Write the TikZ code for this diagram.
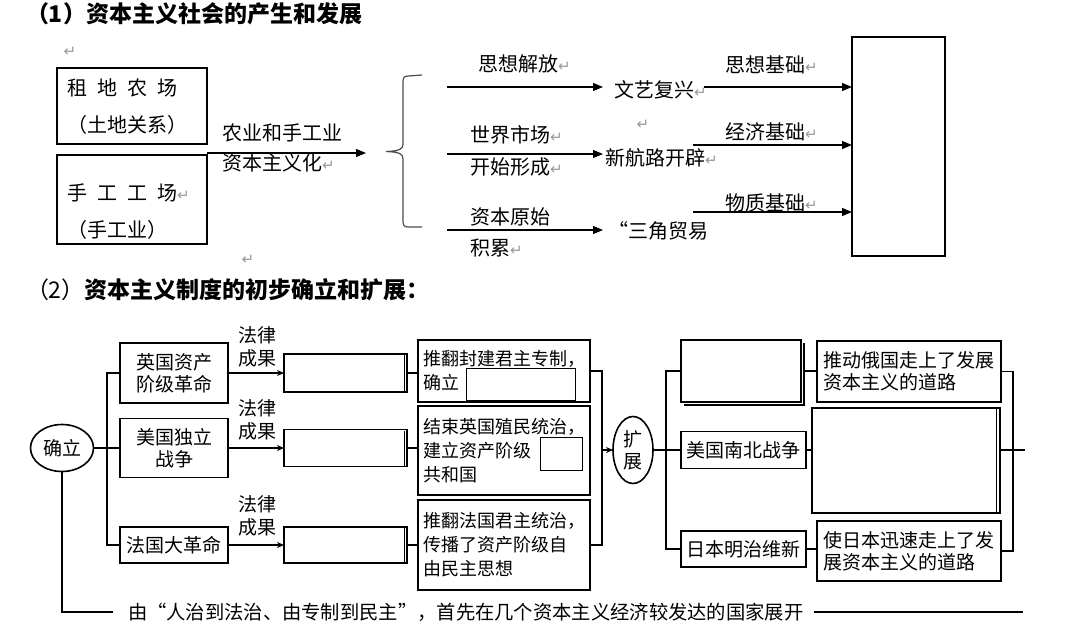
\documentclass[tikz,border=0pt]{standalone}
\usepackage{fontspec}
\setmainfont{Noto Sans CJK SC}
\newfontfamily\dvfont{DejaVu Sans}
\usetikzlibrary{arrows.meta,shapes.geometric}
\newcommand{\ret}{{\dvfont\color{black!40}\fontsize{15pt}{15pt}\selectfont ↵}}
\begin{document}
\begin{tikzpicture}[x=1pt,y=-1pt,
  every node/.style={inner sep=0pt, outer sep=0pt},
  tl/.style={font=\fontsize{20pt}{24pt}\selectfont, anchor=west},
  ttl/.style={font=\bfseries\fontsize{23pt}{26pt}\selectfont, anchor=west},
  topbox/.style={draw, line width=1.1pt},
  arr/.style={line width=1.1pt, -{Triangle[length=10pt,width=8pt]}},
  ln/.style={line width=1.6pt},
  bx/.style={draw, line width=1.6pt, font=\fontsize{19pt}{22pt}\selectfont, align=center},
  rb/.style={draw, line width=1.6pt, font=\fontsize{18pt}{24pt}\selectfont, align=left, inner xsep=5pt},
  rc/.style={draw, line width=1.6pt, font=\fontsize{19pt}{22pt}\selectfont, align=left, inner xsep=5pt},
  blank/.style={draw, line width=1.6pt},
  gap/.style={draw, line width=1pt, fill=white},
  sarr/.style={line width=1.6pt, -{Stealth[length=7pt,width=6pt]}},
  lawlab/.style={font=\fontsize{19pt}{23pt}\selectfont, align=center},
]
\useasboundingbox (0,0) rectangle (1080,625);

% ---------------- part 1 ----------------
\node[ttl] (title1) at (26,14) {（1）资本主义社会的产生和发展};
\node (r0) at (70,52) {\ret};

\node[topbox, minimum width=150pt, minimum height=76pt] (farm) at (132,106) {};
\node[topbox, minimum width=150pt, minimum height=89pt] (work) at (132,199.5) {};
\node[tl] (farmA) at (67,88) {租\hspace{10pt}地\hspace{10pt}农\hspace{10pt}场};
\node[tl] (farmB) at (67,125) {（土地关系）};
\node[tl] (workA) at (67,193) {手\hspace{10pt}工\hspace{10pt}工\hspace{10pt}场\ret};
\node[tl] (workB) at (67,230) {（手工业）};

\coordinate (m0) at (207,153);
\coordinate (m1) at (366,153);
\draw[arr] (m0) -- (m1);
\node[tl] (capA) at (222,133) {农业和手工业};
\node[tl] (capB) at (222,163) {资本主义化\ret};
\node (r1) at (248,260) {\ret};

% brace
\draw[black!70, line width=1.2pt] (422,75) -- (408,76)
  .. controls (404,76) and (403,78) .. (403,82) -- (403,144)
  .. controls (403,149) and (400,151) .. (386,151.5)
  .. controls (400,152) and (403,154) .. (403,159) -- (403,221)
  .. controls (403,225) and (404,227) .. (408,227) -- (422,227);

\coordinate (s1) at (447,87);
\coordinate (s2) at (447,154);
\coordinate (s3) at (447,230);
\node[tl] (ren) at (614,90) {文艺复兴\ret};
\node[tl] (nav) at (605,158) {新航路开辟\ret};
\node[tl] (tri) at (608,231) {“三角贸易};
\draw[arr, shorten >=11pt] (s1) -- (s1 -| ren.west);
\draw[arr, shorten >=2pt] (s2) -- (s2 -| nav.west);
\draw[arr, shorten >=5pt] (s3) -- (s3 -| tri.west);

\node[tl] (lb1) at (478,64) {思想解放\ret};
\node[tl] (lb2a) at (470,135) {世界市场\ret};
\node[tl] (lb2b) at (470,167) {开始形成\ret};
\node[tl] (lb3a) at (470,217) {资本原始};
\node[tl] (lb3b) at (470,248) {积累\ret};
\node (r2) at (643,125) {\ret};

\node[topbox, minimum width=93pt, minimum height=219pt] (soc) at (898.5,146.5) {};
\coordinate (q1) at (704,87);
\coordinate (q2) at (693,145);
\coordinate (q3) at (693,212);
\draw[arr] (q1) -- (q1 -| soc.west);
\draw[arr] (q2) -- (q2 -| soc.west);
\draw[arr] (q3) -- (q3 -| soc.west);
\node[tl] (f1) at (725,65) {思想基础\ret};
\node[tl] (f2) at (725,132) {经济基础\ret};
\node[tl] (f3) at (725,203) {物质基础\ret};

% ---------------- part 2 ----------------
\node[ttl] (title2) at (26,290) {{\mdseries （2）}资本主义制度的初步确立和扩展：};

\node[draw, ellipse, ln, minimum width=63pt, minimum height=47pt, font=\fontsize{19pt}{22pt}\selectfont] (est) at (62,448) {确立};
\coordinate (busL) at (107,448);
\node[bx, minimum width=108pt, minimum height=60pt] (eng) at (174,373) {英国资产\\阶级革命};
\node[bx, minimum width=108pt, minimum height=59pt] (usa) at (174,448) {美国独立\\战争};
\node[bx, minimum width=108pt, minimum height=36pt] (fra) at (174,545) {法国大革命};
\draw[ln] (est.east) -- (busL);
\draw[ln] (eng.west) -| (busL) |- (fra.west);
\draw[ln] (busL) -- (usa.west);

\node[lawlab] (law1) at (257,346.5) {法律\\成果};
\node[lawlab] (law2) at (257,420) {法律\\成果};
\node[lawlab] (law3) at (257,516) {法律\\成果};

\node[blank, minimum width=123pt, minimum height=38pt] (res1) at (345.5,373) {};
\node[blank, minimum width=123pt, minimum height=37pt] (res2) at (345.5,448) {};
\node[blank, minimum width=123pt, minimum height=36pt] (res3) at (345.5,545) {};
\foreach \n in {res1,res2,res3}
  \draw[line width=1pt] ([xshift=-3pt,yshift=-1pt]\n.north east) -- ([xshift=-3pt]\n.south east);
\draw[sarr] (eng.east) -- (res1.west);
\draw[sarr] (usa.east) -- (res2.west);
\draw[sarr] (fra.east) -- (res3.west);

\node[rb, minimum width=172pt, minimum height=62pt] (cr1) at (504,371) {推翻封建君主专制，\\确立};
\node[gap, minimum width=109pt, minimum height=32pt] (cr1b) at (520.5,384) {};
\node[rb, minimum width=172pt, minimum height=89pt] (cr2) at (504,450.5) {结束英国殖民统治，\\建立资产阶级\\共和国};
\node[gap, minimum width=42pt, minimum height=33pt] (cr2b) at (561,453.5) {};
\node[rb, minimum width=172pt, minimum height=90pt] (cr3) at (504,545) {推翻法国君主统治，\\传播了资产阶级自\\由民主思想};
\draw[ln] (res1.east) -- (res1.east -| cr1.west);
\draw[ln] (res2.east) -- (res2.east -| cr2.west);
\draw[ln] (res3.east) -- (res3.east -| cr3.west);

\coordinate (busR) at (602,450);
\draw[ln] (cr1.east) -| (busR) |- (cr3.east);
\node[draw, ellipse, ln, minimum width=40pt, minimum height=67pt, font=\fontsize{19pt}{22pt}\selectfont, align=center] (exp) at (633,450) {扩\\展};
\draw[sarr] (busR) -- (exp.west);

\coordinate (busE) at (666,450);
\draw[ln] (exp.east) -- (busE);
\node[blank, minimum width=120pt, minimum height=62pt] (rus) at (741,371) {};
\draw[line width=1.2pt] ([xshift=3pt,yshift=-3pt]rus.north east) -- ([xshift=3pt,yshift=-3pt]rus.south east) -- ([xshift=3pt,yshift=-3pt]rus.south west);
\node[bx, minimum width=125pt, minimum height=37pt] (civ) at (743.5,450) {美国南北战争};
\node[bx, minimum width=125pt, minimum height=36pt] (mei) at (743.5,549) {日本明治维新};
\draw[ln] (rus.west) -| (busE) |- (mei.west);
\draw[ln] (busE) -- (civ.west);

\node[rc, minimum width=184pt, minimum height=61pt] (rusr) at (909,371.5) {推动俄国走上了发展\\资本主义的道路};
\node[blank, minimum width=188pt, minimum height=105pt] (civr) at (906,460.5) {};
\draw[line width=1pt] ([xshift=-4pt]civr.north east) -- ([xshift=-4pt]civr.south east);
\node[rc, minimum width=184pt, minimum height=60pt] (meir) at (909,551) {使日本迅速走上了发\\展资本主义的道路};
\draw[ln] ([xshift=3pt]rus.east) -- (rus.east -| rusr.west);
\draw[ln] (civ.east) -- (civ.east -| civr.west);
\draw[ln] (mei.east) -- (mei.east -| meir.west);

\coordinate (busF) at (1013,450);
\coordinate (outF) at (1025,450);
\draw[ln] (rusr.east) -| (busF) |- (meir.east);
\draw[ln] (civr.east |- busF) -- (outF);

\node[font=\fontsize{19.3pt}{22pt}\selectfont, anchor=west] (sum) at (128,612) {由“人治到法治、由专制到民主”，首先在几个资本主义经济较发达的国家展开};
\coordinate (sumEnd) at (1023,612);
\draw[ln] (est.south) |- ([xshift=-15pt]sum.west);
\draw[ln] ([xshift=10pt]sum.east) -- (sumEnd);
\end{tikzpicture}
\end{document}
